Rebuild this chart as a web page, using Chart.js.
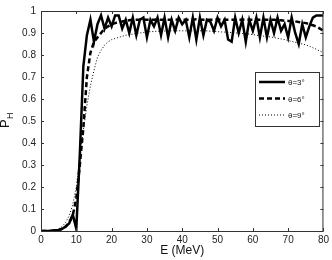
<!DOCTYPE html>
<html>
<head>
<meta charset="utf-8">
<script src="https://cdn.jsdelivr.net/npm/chart.js@4"></script>
<style>
  html, body { margin: 0; padding: 0; background: #fff; }
  #wrap { width: 332px; height: 260px; }
</style>
</head>
<body>
<div id="wrap"><canvas id="ph-chart" width="332" height="260"></canvas></div>
<script>
// energy in MeV, one point per MeV
let energy = [];
for (let e = 0; e <= 80; e++) energy.push(e);

let labels = ["θ=3°", "θ=6°", "θ=9°"];

let p3 = [0, 0, 0, 0.001, 0.003, 0.005, 0.01, 0.02, 0.035, 0.075,
    0.01, 0.35, 0.75, 0.89, 0.96, 0.86, 0.94, 0.98, 0.92, 0.97,
    0.93, 0.98, 0.98, 0.92, 0.96, 0.9, 0.97, 0.89, 0.96, 0.97,
    0.88, 0.96, 0.93, 0.97, 0.89, 0.97, 0.88, 0.96, 0.91, 0.97,
    0.94, 0.96, 0.88, 0.97, 0.87, 0.97, 0.89, 0.96, 0.95, 0.91,
    0.97, 0.93, 0.96, 0.87, 0.86, 0.97, 0.9, 0.96, 0.86, 0.96,
    0.91, 0.97, 0.88, 0.97, 0.88, 0.96, 0.9, 0.97, 0.91, 0.94,
    0.88, 0.97, 0.9, 0.85, 0.94, 0.88, 0.93, 0.97, 0.98, 0.98, 0.98];

let p6 = [0, 0, 0, 0.001, 0.002, 0.004, 0.01, 0.02, 0.04, 0.07,
    0.15, 0.3, 0.47, 0.7, 0.81, 0.86, 0.88, 0.9, 0.92, 0.93,
    0.94, 0.945, 0.95, 0.952, 0.955, 0.958, 0.96, 0.96, 0.96, 0.96,
    0.96, 0.96, 0.96, 0.962, 0.96, 0.96, 0.96, 0.96, 0.962, 0.96,
    0.96, 0.96, 0.96, 0.96, 0.962, 0.96, 0.96, 0.96, 0.96, 0.96,
    0.962, 0.96, 0.96, 0.96, 0.96, 0.96, 0.96, 0.96, 0.962, 0.96,
    0.96, 0.96, 0.96, 0.96, 0.96, 0.96, 0.96, 0.958, 0.958, 0.956,
    0.955, 0.955, 0.953, 0.95, 0.948, 0.945, 0.94, 0.935, 0.93, 0.92, 0.91];

let p9 = [0, 0, 0, 0.002, 0.005, 0.01, 0.02, 0.04, 0.07, 0.12,
    0.2, 0.33, 0.46, 0.57, 0.66, 0.73, 0.79, 0.82, 0.845, 0.86,
    0.87, 0.875, 0.88, 0.885, 0.89, 0.892, 0.895, 0.898, 0.9, 0.902,
    0.905, 0.906, 0.907, 0.908, 0.908, 0.909, 0.91, 0.91, 0.91, 0.91,
    0.91, 0.91, 0.91, 0.91, 0.91, 0.91, 0.91, 0.91, 0.908, 0.908,
    0.906, 0.905, 0.904, 0.903, 0.902, 0.9, 0.9, 0.898, 0.896, 0.895,
    0.893, 0.89, 0.888, 0.886, 0.884, 0.882, 0.879, 0.876, 0.873, 0.87,
    0.866, 0.862, 0.858, 0.854, 0.85, 0.846, 0.84, 0.833, 0.826, 0.818, 0.81];

function pts(arr) {
    return arr.map((v, i) => ({ x: energy[i], y: v }));
}

// inside ticks + box, like matlab
const frameTicks = {
    id: "frameTicks",
    afterDraw(chart) {
        const ctx = chart.ctx, a = chart.chartArea;
        const xs = chart.scales.x, ys = chart.scales.y;
        ctx.save();
        ctx.strokeStyle = "#333";
        ctx.lineWidth = 1;
        ctx.strokeRect(a.left + 0.5, a.top + 0.5, a.right - a.left - 1, a.bottom - a.top);
        ctx.beginPath();
        xs.ticks.forEach(t => {
            let px = Math.round(xs.getPixelForValue(t.value)) + 0.5;
            ctx.moveTo(px, a.bottom); ctx.lineTo(px, a.bottom - 3);
            ctx.moveTo(px, a.top); ctx.lineTo(px, a.top + 3);
        });
        ys.ticks.forEach(t => {
            let py = Math.round(ys.getPixelForValue(t.value)) + 0.5;
            ctx.moveTo(a.left, py); ctx.lineTo(a.left + 3, py);
            ctx.moveTo(a.right, py); ctx.lineTo(a.right - 3, py);
        });
        ctx.stroke();

        // y title P with subscript H
        ctx.fillStyle = "#111";
        ctx.translate(9, 128);
        ctx.rotate(-Math.PI / 2);
        ctx.font = "13px 'Liberation Sans', Arial, sans-serif";
        ctx.textBaseline = "alphabetic";
        ctx.fillText("P", 0, 0);
        ctx.font = "9px 'Liberation Sans', Arial, sans-serif";
        ctx.fillText("H", 9, 4);
        ctx.restore();

        // legend box
        const lx = 255, ly = 72, lw = 64, lh = 54;
        ctx.save();
        ctx.fillStyle = "#fff";
        ctx.fillRect(lx, ly, lw, lh);
        ctx.strokeStyle = "#333";
        ctx.lineWidth = 1;
        ctx.strokeRect(lx + 0.5, ly + 0.5, lw, lh);
        chart.data.datasets.forEach((ds, i) => {
            let y = ly + 10 + i * 16.5;
            ctx.beginPath();
            ctx.strokeStyle = "#000";
            ctx.lineWidth = ds.borderWidth;
            ctx.setLineDash(ds.borderDash || []);
            ctx.moveTo(lx + 4, y); ctx.lineTo(lx + 30, y);
            ctx.stroke();
            ctx.setLineDash([]);
            ctx.fillStyle = "#111";
            ctx.font = "8px 'Liberation Sans', Arial, sans-serif";
            ctx.textBaseline = "middle";
            ctx.fillText(ds.label, lx + 33, y + 1);
        });
        ctx.restore();
    }
};

let chart = new Chart(document.getElementById("ph-chart").getContext("2d"), {
    type: "line",
    data: {
        datasets: [{
            label: labels[0],
            data: pts(p3),
            borderColor: "#000",
            borderWidth: 2.5,
        }, {
            label: labels[1],
            data: pts(p6),
            borderColor: "#000",
            borderWidth: 2.5,
            borderDash: [5, 3],
        }, {
            label: labels[2],
            data: pts(p9),
            borderColor: "#000",
            borderWidth: 1,
            borderDash: [1, 2],
        }],
    },
    options: {
        responsive: false,
        animation: false,
        events: [],
        elements: { point: { radius: 0 }, line: { tension: 0 } },
        layout: { padding: { left: 0, right: 8, top: 8, bottom: 0 } },
        plugins: { legend: { display: false }, tooltip: { enabled: false } },
        scales: {
            x: {
                type: "linear",
                min: 0, max: 80,
                ticks: { stepSize: 10, padding: 3, color: "#222", maxRotation: 0,
                    font: { size: 10, family: "'Liberation Sans', Arial, sans-serif" } },
                grid: { display: false, drawTicks: false },
                border: { display: false },
                title: { display: true, text: "E (MeV)", color: "#111", padding: { top: 0, bottom: 2 },
                    font: { size: 12, family: "'Liberation Sans', Arial, sans-serif" } },
                afterFit(scale) { scale.height = 29; },
            },
            y: {
                min: 0, max: 1,
                ticks: { stepSize: 0.1, padding: 5, color: "#222",
                    callback: v => String(Math.round(v * 10) / 10),
                    font: { size: 10, family: "'Liberation Sans', Arial, sans-serif" } },
                grid: { display: false, drawTicks: false },
                border: { display: false },
                afterFit(scale) { scale.width = 41; },
            },
        },
    },
    plugins: [frameTicks],
});
</script>
</body>
</html>
